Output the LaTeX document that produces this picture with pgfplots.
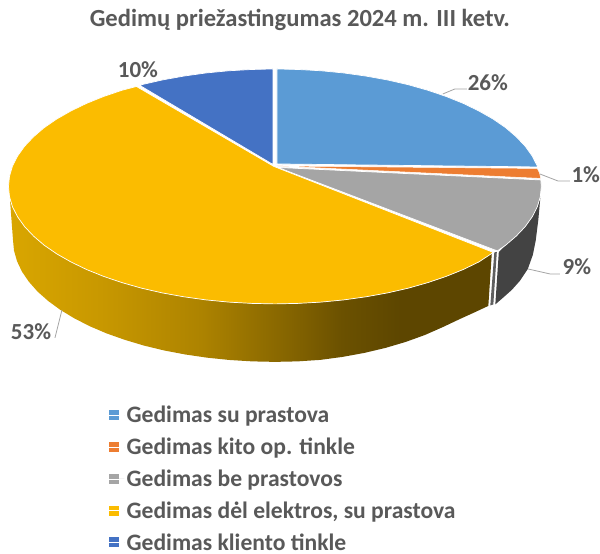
\documentclass[border=0pt]{standalone}
\usepackage{pgfplots}
\pgfplotsset{compat=1.18}
\usepackage{fontspec}
\setmainfont{Carlito}
\definecolor{txt}{HTML}{595959}
\definecolor{sA}{HTML}{5B9BD5}
\definecolor{sB}{HTML}{ED7D31}
\definecolor{sC}{HTML}{A5A5A5}
\definecolor{sD}{HTML}{FBBC00}
\definecolor{sE}{HTML}{4472C4}
\definecolor{dk}{HTML}{434343}
\definecolor{ya}{HTML}{D9A600}
\definecolor{yb}{HTML}{C89800}
\definecolor{yc}{HTML}{AD8300}
\definecolor{yd}{HTML}{7F6000}
\definecolor{ye}{HTML}{6B5100}
\definecolor{yf}{HTML}{5D4600}
\pgfdeclarehorizontalshading{yside}{100bp}{color(0bp)=(ya); color(25bp)=(ya); color(34.4bp)=(yb); color(44.8bp)=(yc); color(55.2bp)=(yd); color(59.4bp)=(ye); color(65.6bp)=(yf); color(100bp)=(yf)}
\begin{document}
\begin{tikzpicture}
\begin{axis}[
  scale only axis, width=600pt, height=554pt,
  xmin=0, xmax=600, ymin=0, ymax=554, y dir=reverse,
  hide axis, clip=false,
  legend style={at={(axis cs:109,404.5)}, anchor=north west, draw=none, fill=none, inner sep=0pt, outer sep=0pt,
    font=\fontsize{23.6}{27}\selectfont\bfseries\color{txt}, row sep=9.7pt, cells={anchor=west}, /tikz/every even column/.append style={column sep=0pt}},
  legend cell align=left,
  legend image code/.code={\fill[#1,draw=none] (0pt,-5pt) rectangle (9.5pt,5pt); \path (0pt,0pt) -- (15pt,0pt);},
]
% page frame
\addplot[forget plot, draw=none, fill=white] coordinates {(0,0)(600,0)(600,554)(0,554)} --cycle;
% side of the pie: yellow
\addplot[forget plot, draw=none, shade, shading=yside] coordinates {
(492,253)(479.1,262)(463.4,269.6)(446.3,276.5)(428,282.7)(408.3,288.3)(387.7,293)(366.1,296.9)(344,300)(321.3,302.2)(298.2,303.5)(275,304)
(251.8,303.5)(228.7,302.2)(206,300)(183.9,296.9)(162.3,293)(141.7,288.3)(122,282.7)(103.7,276.5)(86.6,269.6)(70.9,262)(56.7,253.9)(44.2,245.3)(33.6,236.2)(24.6,226.7)(17.6,216.9)(12.5,206.9)(10,200)
(13,240)(14,250.6)(17,261.2)(21.9,271.6)(28.8,281.7)(37.5,291.6)(48.1,301)(60.4,310)(74.3,318.4)(89.7,326.3)(106.6,333.5)(124.7,339.9)(144,345.7)(164.3,350.6)(185.4,354.6)(207.2,357.8)(229.5,360.1)(252.2,361.5)(275,362)
(297.8,361.5)(320.5,360)(342.8,357)(364.6,353)(385.7,348)(406,342)(425.3,335)(443.4,327)(460.3,319)(475.7,312)(488.5,306)
} --cycle;
% side: thin strip and dark grey
\addplot[forget plot, draw=none, fill=dk!85!white] coordinates {(494.5,252.5)(497,252)(493.5,304.5)(490.5,305.5)} --cycle;
\addplot[forget plot, draw=none, fill=dk] coordinates {
(499,252)(505.8,245.3)(516.4,236.2)(525.4,226.7)(532.4,216.9)(537.5,206.9)(540.5,198)
(538.5,220)(536,240)(533,255)(528,269)(520,281)(512,290)(503,298)(495.5,304.5)} --cycle;
% top faces
\addplot[draw=white, line width=0.7pt, fill=sA] coordinates {
(277,164)(277,69)(298.2,69.5)(321.3,70.8)(344,73)(366.1,76.1)(387.7,80)(408.3,84.7)(428,90.3)(446.3,96.5)(463.4,103.4)(479.1,111)(493.3,119.1)(505.8,127.7)(516.4,136.8)(525.4,146.3)(532.4,156.1)(537.5,166.1)(538,167)} --cycle;
\addlegendentry{Gedimas su prastova}
\addplot[draw=white, line width=0.5pt, fill=sB] coordinates {
(277,166)(537.5,168.5)(539.7,173)(541,178.5)} --cycle;
\addlegendentry{Gedimas kito op. tinkle}
\addplot[draw=white, line width=0.7pt, fill=sC] coordinates {
(278,167.5)(541,180)(541.5,186.5)(540.5,196.7)(537.5,206.9)(532.4,216.9)(525.4,226.7)(516.4,236.2)(505.8,245.3)(497.5,251)} --cycle;
\addlegendentry{Gedimas be prastovos}
\addplot[draw=white, line width=0.7pt, fill=sD] coordinates {
(274,166.5)(493.5,252.5)(479.1,262)(463.4,269.6)(446.3,276.5)(428,282.7)(408.3,288.3)(387.7,293)(366.1,296.9)(344,300)(321.3,302.2)(298.2,303.5)(275,304)
(251.8,303.5)(228.7,302.2)(206,300)(183.9,296.9)(162.3,293)(141.7,288.3)(122,282.7)(103.7,276.5)(86.6,269.6)(70.9,262)(56.7,253.9)(44.2,245.3)(33.6,236.2)(24.6,226.7)(17.6,216.9)(12.5,206.9)(9.5,196.7)(8.5,186.5)
(9.5,176.3)(12.5,166.1)(17.6,156.1)(24.6,146.3)(33.6,136.8)(44.2,127.7)(56.7,119.1)(70.9,111)(86.6,103.4)(103.7,96.5)(122,90.3)(136.5,86.5)} --cycle;
\addlegendentry{Gedimas dėl elektros, su prastova}
\addplot[draw=white, line width=0.7pt, fill=sE] coordinates {
(273,164.5)(273,69)(251.8,69.5)(228.7,70.8)(206,73)(183.9,76.1)(162.3,80)(141.7,84.7)(140,85.5)} --cycle;
\addlegendentry{Gedimas kliento tinkle}
% leader lines
\addplot[forget plot, color=sC, line width=0.8pt] coordinates {(443,94)(455,89)(467,89)};
\addplot[forget plot, color=sC, line width=0.8pt] coordinates {(540,174)(558,181)(570,181)};
\addplot[forget plot, color=sC, line width=0.8pt] coordinates {(528,269)(550,274)(560,274)};
\addplot[forget plot, color=sC, line width=0.8pt] coordinates {(62,310)(55,338)};
% labels
\tikzset{lab/.style={text=txt, font=\fontsize{23}{26}\selectfont\bfseries, inner sep=0pt}}
\node[lab] at (axis cs:488,83) {26\%};
\node[lab] at (axis cs:586,175) {1\%};
\node[lab] at (axis cs:577,267) {9\%};
\node[lab] at (axis cs:31,332) {53\%};
\node[lab] at (axis cs:138,70) {10\%};
\node[text=txt, inner sep=0pt, font=\fontsize{24.6}{28}\selectfont\bfseries] at (axis cs:300,20) {Gedimų priežastingumas 2024 m. III ketv.};
\end{axis}
\end{tikzpicture}
\end{document}
